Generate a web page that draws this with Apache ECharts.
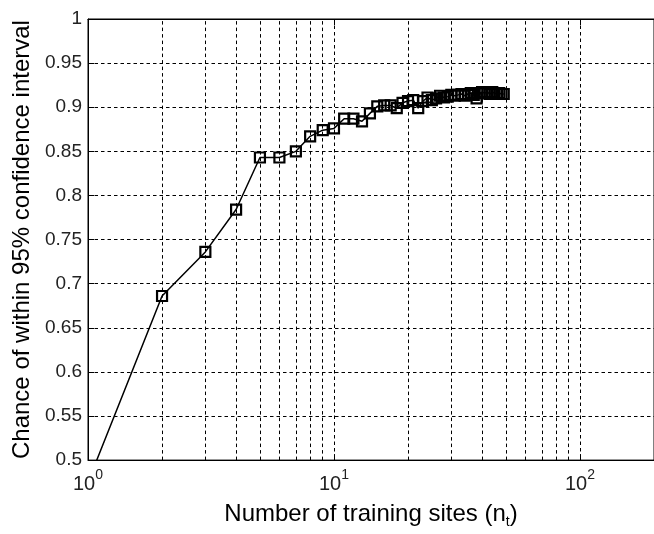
<!DOCTYPE html>
<html><head><meta charset="utf-8">
<script src="https://cdn.jsdelivr.net/npm/echarts@6/dist/echarts.min.js"></script>
<style>html,body{margin:0;padding:0;background:#fff}#c{width:654px;height:534px}</style>
</head><body><div id="c"></div>
<script>
// ---- data ----
const sites = [1,2,3,4,5,6,7,8,9,10,11,12,13,14,15,16,17,18,19,20,21,22,23,24,25,26,27,28,29,30,31,32,33,34,35,36,37,38,39,40,41,42,43,44,45,46,47,48,49];
const chance = [0.475,0.686,0.736,0.784,0.843,0.843,0.850,0.867,0.874,0.876,0.887,0.887,0.884,0.893,0.901,0.902,0.902,0.899,0.905,0.907,0.908,0.899,0.907,0.911,0.908,0.910,0.913,0.911,0.912,0.914,0.913,0.914,0.915,0.913,0.915,0.916,0.914,0.910,0.916,0.917,0.916,0.917,0.915,0.917,0.916,0.915,0.916,0.915,0.915];
const minorGridX = [2,3,4,5,6,7,8,9,20,30,40,50,60,70,80,90];
const xRange = [1, 200];
const yRange = [0.5, 1];
const yStep = 0.05;
const xTitle = 'Number of training sites (n{sub|t})';
const yTitle = 'Chance of within 95% confidence interval';

const FONT = "'Liberation Sans', Arial, Helvetica, sans-serif";
const dash = [3.5, 3];
const chart = echarts.init(document.getElementById('c'), null, {renderer: 'canvas'});

const pts = sites.map((s, i) => [s, chance[i]]);

chart.setOption({
  animation: false,
  backgroundColor: '#fff',
  grid: {left: 88, right: -2, top: 19, bottom: 66, show: true, borderColor: '#000', borderWidth: 1, backgroundColor: 'transparent'},
  xAxis: [{
    type: 'log', logBase: 10, min: xRange[0], max: xRange[1],
    position: 'bottom',
    name: xTitle, nameLocation: 'middle', nameGap: 34,
    nameTextStyle: {fontFamily: FONT, fontSize: 24, color: '#000', lineHeight: 30,
      rich: {sub: {fontFamily: FONT, fontSize: 14, lineHeight: 14, verticalAlign: 'bottom', color: '#000'}}},
    axisLine: {show: true, lineStyle: {color: '#000', width: 1}},
    axisTick: {show: true, inside: true, length: 6, lineStyle: {color: '#000'}},
    axisLabel: {
      margin: 8, color: '#222', fontFamily: FONT,
      showMaxLabel: false,
      formatter: function (v) {
        const e = Math.round(Math.log10(v));
        if (Math.abs(Math.pow(10, e) - v) > 1e-6) return '';
        return '{b|10}{sup|' + e + '}';
      },
      rich: {
        b: {fontFamily: FONT, fontSize: 20, lineHeight: 32, color: '#222'},
        sup: {fontFamily: FONT, fontSize: 14, lineHeight: 12, verticalAlign: 'top', color: '#222'}
      }
    },
    splitLine: {show: true, lineStyle: {color: '#000', type: dash, width: 1}}
  }, {
    type: 'log', logBase: 10, min: xRange[0], max: xRange[1],
    position: 'top',
    axisLine: {show: true, lineStyle: {color: '#000', width: 1}},
    axisTick: {show: true, inside: true, length: 6, lineStyle: {color: '#000'}},
    axisLabel: {show: false},
    splitLine: {show: false}
  }],
  yAxis: {
    type: 'value', min: yRange[0], max: yRange[1], interval: yStep,
    name: yTitle, nameLocation: 'middle', nameRotate: 90, nameGap: 54,
    nameTextStyle: {fontFamily: FONT, fontSize: 24, color: '#000'},
    axisLine: {show: true, lineStyle: {color: '#000', width: 1}},
    axisTick: {show: true, inside: true, length: 6, lineStyle: {color: '#000'}},
    axisLabel: {
      margin: 6, color: '#222', fontFamily: FONT, fontSize: 19,
      formatter: v => String(parseFloat(v.toFixed(2)))
    },
    splitLine: {show: true, lineStyle: {color: '#000', type: dash, width: 1}}
  },
  series: [{
    type: 'line',
    xAxisIndex: 0,
    data: pts,
    clip: true,
    z: 3,
    symbol: 'rect',
    symbolSize: 10,
    showAllSymbol: true,
    lineStyle: {color: '#000', width: 1.5},
    itemStyle: {color: 'rgba(0,0,0,0)', borderColor: '#000', borderWidth: 2.2},
    markLine: {
      silent: true, z: 1, animation: false,
      symbol: ['none', 'none'],
      label: {show: false},
      lineStyle: {color: '#000', type: dash, width: 1},
      emphasis: {disabled: true},
      data: minorGridX.map(x => ({xAxis: x}))
    }
  }]
});
</script>
</body></html>
